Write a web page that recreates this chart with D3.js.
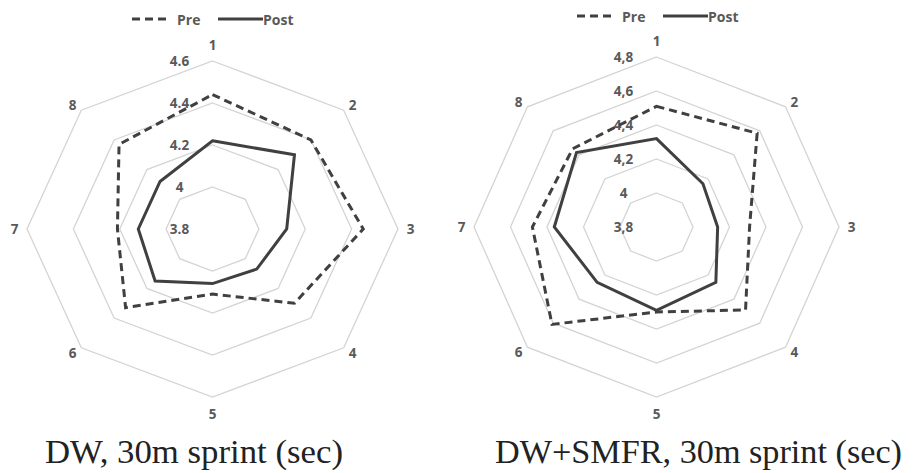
<!DOCTYPE html>
<html lang="en">
<head>
    <meta charset="UTF-8">
    <title>30m sprint radar - DW vs DW+SMFR</title>
    <script src="https://d3js.org/d3.v7.min.js"></script>
    <style>
        body {
            margin: 0;
            background: #ffffff;
        }

        svg {
            display: block;
        }

        .grid {
            fill: none;
            stroke: #d4d4d4;
            stroke-width: 1.3;
        }

        .axis-label,
        .tick-label,
        .legend text {
            font-family: 'Open Sans', sans-serif;
            font-weight: 700;
            font-size: 13.5px;
            fill: #595959;
        }

        .legend text {
            font-size: 14px;
        }

        .series {
            fill: none;
            stroke: #404040;
            stroke-width: 3;
            stroke-linejoin: miter;
        }

        .caption {
            font-family: 'Liberation Serif', 'Times New Roman', serif;
            font-size: 33px;
            fill: #222;
        }
    </style>
</head>
<body>
    <svg width="914" height="473"></svg>

    <script>
        const axes = ['1', '2', '3', '4', '5', '6', '7', '8'];

        // left chart: DW
        const dwTicks = [3.8, 4.0, 4.2, 4.4, 4.6];
        const dwPre = [4.44, 4.40, 4.45, 4.30, 4.11, 4.33, 4.21, 4.37];
        const dwPost = [4.22, 4.30, 4.12, 4.07, 4.06, 4.15, 4.12, 4.12];

        // right chart: DW+SMFR
        const smfrTicks = [3.8, 4.0, 4.2, 4.4, 4.6, 4.8];
        const smfrPre = [4.51, 4.58, 4.31, 4.49, 4.30, 4.61, 4.48, 4.45];
        const smfrPost = [4.32, 4.16, 4.135, 4.26, 4.29, 4.26, 4.36, 4.42];

        const svg = d3.select('svg');
        const dash = '8,5';

        function drawRadar(opt) {
            const g = svg.append('g');
            const n = axes.length;
            const angle = i => i * 2 * Math.PI / n;
            const min = opt.ticks[0];
            const max = opt.ticks[opt.ticks.length - 1];

            const rx = d3.scaleLinear().domain([min, max]).range([0, opt.rx]);
            const ry = d3.scaleLinear().domain([min, max]).range([0, opt.ry]);

            const pt = (v, i) => [
                opt.cx + rx(v) * Math.sin(angle(i)),
                opt.cy - ry(v) * Math.cos(angle(i))
            ];
            const line = d3.line().curve(d3.curveLinearClosed);

            // rings
            g.selectAll('.grid')
                .data(opt.ticks.slice(1))
                .enter().append('path')
                .attr('class', 'grid')
                .attr('d', t => line(axes.map((a, i) => pt(t, i))));

            // tick labels
            g.selectAll('.tick-label')
                .data(opt.ticks)
                .enter().append('text')
                .attr('class', 'tick-label')
                .attr('x', opt.cx - 33)
                .attr('y', t => opt.cy - ry(t))
                .attr('text-anchor', 'middle')
                .attr('dominant-baseline', 'central')
                .text(t => opt.fmt(t));

            // axis labels
            g.selectAll('.axis-label')
                .data(axes)
                .enter().append('text')
                .attr('class', 'axis-label')
                .attr('x', (a, i) => pt(max, i)[0] + 12.5 * Math.sin(angle(i)))
                .attr('y', (a, i) => {
                    const c = Math.cos(angle(i));
                    return pt(max, i)[1] - c * (Math.abs(c) > 0.9 ? 16.5 : 7);
                })
                .attr('text-anchor', 'middle')
                .attr('dominant-baseline', 'central')
                .text(a => a);

            // series
            g.append('path')
                .attr('class', 'series')
                .attr('stroke-dasharray', dash)
                .attr('d', line(opt.pre.map(pt)));

            g.append('path')
                .attr('class', 'series')
                .attr('d', line(opt.post.map(pt)));

            // legend
            const lg = g.append('g').attr('class', 'legend');
            const L = opt.legend;
            lg.append('line')
                .attr('class', 'series')
                .attr('stroke-dasharray', dash)
                .attr('x1', L.x).attr('x2', L.x + 38)
                .attr('y1', L.y).attr('y2', L.y);
            lg.append('text')
                .attr('x', L.x + 45).attr('y', L.y)
                .attr('dominant-baseline', 'central')
                .text('Pre');
            lg.append('line')
                .attr('class', 'series')
                .attr('x1', L.x + 86).attr('x2', L.x + 131)
                .attr('y1', L.y).attr('y2', L.y);
            lg.append('text')
                .attr('x', L.x + 131).attr('y', L.y)
                .attr('dominant-baseline', 'central')
                .text('Post');

            // caption
            g.append('text')
                .attr('class', 'caption')
                .attr('x', opt.capX)
                .attr('y', 463)
                .attr('textLength', opt.capW)
                .attr('lengthAdjust', 'spacingAndGlyphs')
                .text(opt.caption);
        }

        drawRadar({
            cx: 212.5, cy: 229, rx: 185.5, ry: 168,
            ticks: dwTicks, pre: dwPre, post: dwPost,
            fmt: d3.format('~g'),
            legend: { x: 132, y: 19 },
            caption: 'DW, 30m sprint (sec)', capX: 45, capW: 298
        });

        drawRadar({
            cx: 656.5, cy: 227, rx: 182.5, ry: 170,
            ticks: smfrTicks, pre: smfrPre, post: smfrPost,
            fmt: t => d3.format('~g')(t).replace('.', ','),
            legend: { x: 577, y: 16 },
            caption: 'DW+SMFR, 30m sprint (sec)', capX: 495, capW: 407
        });
    </script>
</body>
</html>
